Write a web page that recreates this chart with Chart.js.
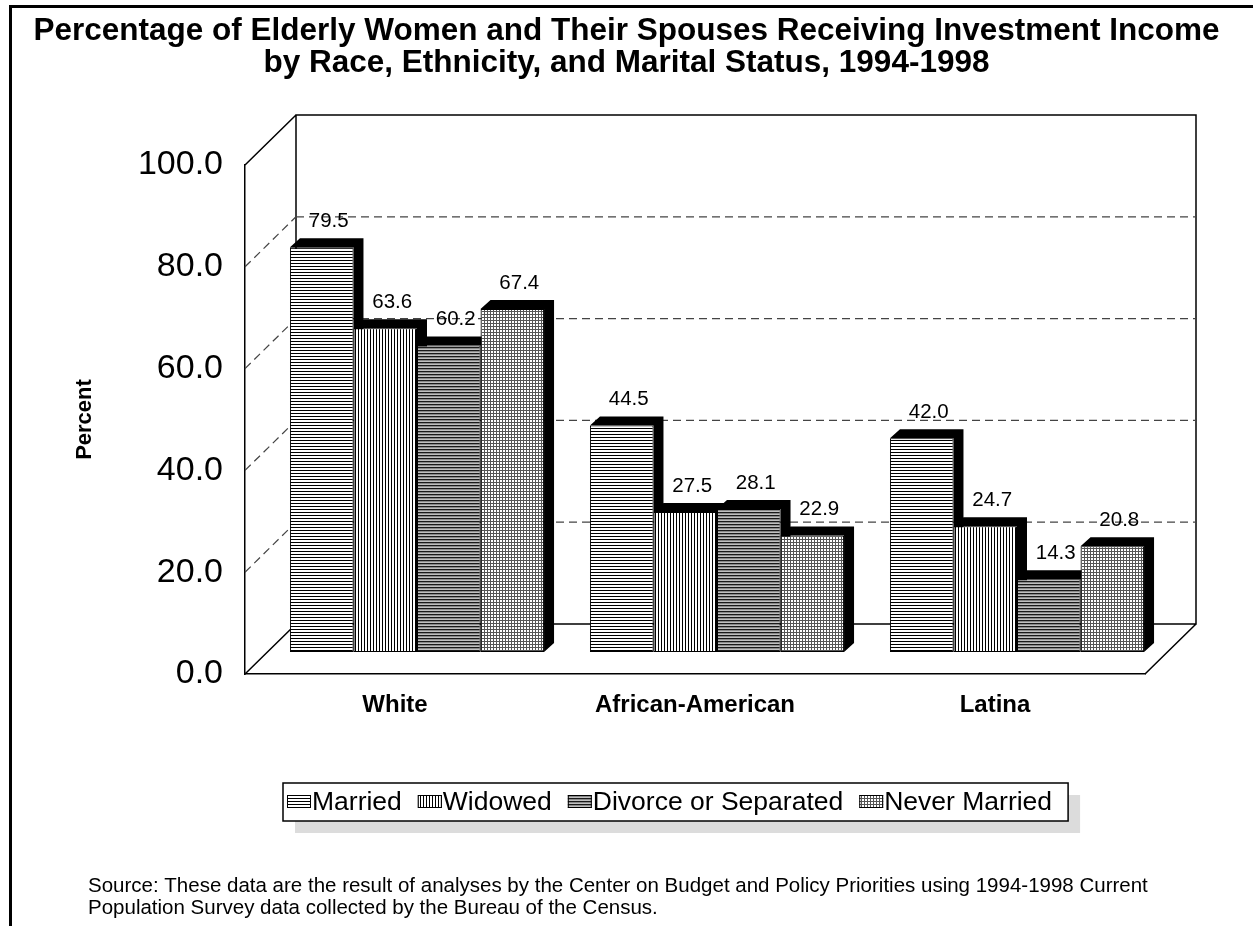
<!DOCTYPE html>
<html lang="en">
<head>
<meta charset="utf-8">
<title>Elderly Women Investment Income</title>
<script src="https://cdn.jsdelivr.net/npm/chart.js"></script>
<style>
  html, body { margin: 0; padding: 0; background: #fff; }
  canvas { display: block; }
</style>
</head>
<body>
<canvas id="graficoIngresos" width="1253" height="926"></canvas>
<script>
// Datos
const categorias = ['White', 'African-American', 'Latina'];
const nombresSeries = ['Married', 'Widowed', 'Divorce or Separated', 'Never Married'];
const casadas = [79.5, 44.5, 42.0];
const viudas = [63.6, 27.5, 24.7];
const divorciadas = [60.2, 28.1, 14.3];
const solteras = [67.4, 22.9, 20.8];
const ticksY = [0, 20, 40, 60, 80, 100];
const lineasTitulo = [
  'Percentage of Elderly Women and Their Spouses Receiving Investment Income',
  'by Race, Ethnicity, and Marital Status, 1994-1998'
];
const lineasFuente = [
  'Source: These data are the result of analyses by the Center on Budget and Policy Priorities using 1994-1998 Current',
  'Population Survey data collected by the Bureau of the Census.'
];

const FUENTE = 'Arial, "Liberation Sans", sans-serif';
const PARED = { dx: 51, dy: -50 };   // desplazamiento de la pared del fondo
const BARRA = { dx: 22, dy: -22 };   // plano de las barras
const GROSOR = { dx: 10, dy: -9 };   // profundidad de cada barra

document.addEventListener('DOMContentLoaded', () => {
  const canvas = document.getElementById('graficoIngresos');
  const ctx = canvas.getContext('2d');

  // Tramas en blanco y negro como en el original
  function crearTrama(tipo) {
    const c = document.createElement('canvas');
    c.width = 3; c.height = 3;
    const g = c.getContext('2d');
    g.fillStyle = '#fff';
    g.fillRect(0, 0, 3, 3);
    if (tipo === 'horizontal') {
      g.fillStyle = '#000';
      g.fillRect(0, 0, 3, 1);
    } else if (tipo === 'vertical') {
      g.fillStyle = '#000';
      g.fillRect(0, 0, 1, 3);
    } else if (tipo === 'gris') {
      g.fillStyle = '#8a8a8a';
      g.fillRect(0, 0, 3, 3);
      g.fillStyle = '#1a1a1a';
      g.fillRect(0, 0, 3, 1);
      g.fillStyle = '#c0c0c0';
      g.fillRect(0, 2, 3, 1);
    } else {
      g.fillStyle = '#555';
      g.fillRect(0, 0, 3, 1);
      g.fillRect(0, 0, 1, 3);
    }
    return ctx.createPattern(c, 'repeat');
  }

  const tramas = [crearTrama('horizontal'), crearTrama('vertical'), crearTrama('gris'), crearTrama('puntos')];
  const valores = [casadas, viudas, divorciadas, solteras];

  // Marco 3D, barras con profundidad y etiquetas
  const plugin3d = {
    id: 'plugin3d',
    beforeDraw(chart) {
      const c = chart.ctx;
      c.save();
      c.fillStyle = '#fff';
      c.fillRect(0, 0, chart.width, chart.height);
      // borde exterior
      c.fillStyle = '#000';
      c.fillRect(9, 5, chart.width - 9, 3);
      c.fillRect(9, 5, 3, chart.height - 5);
      c.restore();
    },
    beforeDatasetsDraw(chart) {
      const c = chart.ctx;
      const a = chart.chartArea;
      const ys = chart.scales.y;
      c.save();
      c.strokeStyle = '#000';
      c.lineWidth = 1.5;
      const yTop = ys.getPixelForValue(100);
      const yBase = ys.getPixelForValue(0);
      // pared del fondo
      c.beginPath();
      c.moveTo(a.left + PARED.dx, yBase + PARED.dy);
      c.lineTo(a.left + PARED.dx, yTop + PARED.dy);
      c.lineTo(a.right + PARED.dx, yTop + PARED.dy);
      c.lineTo(a.right + PARED.dx, yBase + PARED.dy);
      c.lineTo(a.left + PARED.dx, yBase + PARED.dy);
      // pared izquierda y suelo
      c.moveTo(a.left, yTop);
      c.lineTo(a.left + PARED.dx, yTop + PARED.dy);
      c.moveTo(a.left, yBase);
      c.lineTo(a.left + PARED.dx, yBase + PARED.dy);
      c.moveTo(a.right, yBase);
      c.lineTo(a.right + PARED.dx, yBase + PARED.dy);
      c.stroke();
      // líneas de cuadrícula discontinuas
      c.setLineDash([8, 5]);
      c.strokeStyle = '#444';
      c.lineWidth = 1.2;
      ticksY.filter(v => v > 0 && v < 100).forEach(v => {
        const y = ys.getPixelForValue(v);
        c.beginPath();
        c.moveTo(a.left + PARED.dx, y + PARED.dy);
        c.lineTo(a.right + PARED.dx, y + PARED.dy);
        c.stroke();
        c.beginPath();
        c.moveTo(a.left, y);
        c.lineTo(a.left + PARED.dx, y + PARED.dy);
        c.stroke();
      });
      c.restore();

      // plano de las barras
      c.save();
      c.translate(BARRA.dx, BARRA.dy);
      c.fillStyle = '#000';
      chart.data.datasets.forEach((ds, i) => {
        chart.getDatasetMeta(i).data.forEach(bar => {
          const p = bar.getProps(['x', 'y', 'base', 'width'], true);
          const l = p.x - p.width / 2;
          const r = p.x + p.width / 2;
          c.beginPath();
          c.moveTo(l, p.y);
          c.lineTo(l + GROSOR.dx, p.y + GROSOR.dy);
          c.lineTo(r + GROSOR.dx, p.y + GROSOR.dy);
          c.lineTo(r + GROSOR.dx, p.base + GROSOR.dy);
          c.lineTo(r, p.base);
          c.lineTo(r, p.y);
          c.closePath();
          c.fill();
        });
      });
    },
    afterDatasetsDraw(chart) {
      const c = chart.ctx;
      c.fillStyle = '#000';
      c.font = '20.5px ' + FUENTE;
      c.textAlign = 'center';
      c.textBaseline = 'middle';
      chart.data.datasets.forEach((ds, i) => {
        chart.getDatasetMeta(i).data.forEach((bar, j) => {
          const p = bar.getProps(['x', 'y'], true);
          c.fillText(ds.data[j].toFixed(1), p.x + 7, p.y - 26);
        });
      });
      c.restore();
    },
    afterDraw(chart) {
      const c = chart.ctx;
      c.save();
      // leyenda con sombra
      c.font = '26.5px ' + FUENTE;
      const x0 = 283, y0 = 783, alto = 38;
      let ancho = 4;
      nombresSeries.forEach(n => { ancho += 24 + 1 + c.measureText(n).width + 16; });
      c.fillStyle = '#dcdcdc';
      c.fillRect(x0 + 12, y0 + 12, ancho, alto);
      c.fillStyle = '#fff';
      c.fillRect(x0, y0, ancho, alto);
      c.strokeStyle = '#000';
      c.lineWidth = 1.5;
      c.strokeRect(x0, y0, ancho, alto);
      let x = x0 + 4;
      const yc = y0 + alto / 2;
      c.textBaseline = 'middle';
      c.textAlign = 'left';
      nombresSeries.forEach((n, i) => {
        c.fillStyle = tramas[i];
        c.fillRect(x, yc - 7, 24, 13);
        c.lineWidth = 1;
        c.strokeRect(x + 0.5, yc - 6.5, 23, 12);
        c.fillStyle = '#000';
        c.fillText(n, x + 25, yc + 1);
        x += 24 + 1 + c.measureText(n).width + 16;
      });
      // nota de la fuente
      c.font = '20.5px ' + FUENTE;
      lineasFuente.forEach((t, i) => c.fillText(t, 88, 886 + i * 22));
      c.restore();
    }
  };

  if (typeof Chart === 'undefined') {
    console.warn('Chart.js no está cargado');
    return;
  }

  new Chart(canvas, {
    type: 'bar',
    data: {
      labels: categorias,
      datasets: nombresSeries.map((n, i) => ({
        label: n,
        data: valores[i],
        backgroundColor: tramas[i],
        borderColor: '#000',
        borderWidth: 1,
        borderSkipped: false
      }))
    },
    options: {
      responsive: false,
      animation: false,
      devicePixelRatio: 1,
      layout: { padding: 0 },
      datasets: { bar: { categoryPercentage: 0.847, barPercentage: 1 } },
      scales: {
        x: {
          grid: { display: false, drawTicks: false },
          border: { display: true, color: '#000', width: 1.5 },
          ticks: { padding: 17, color: '#000', font: { family: FUENTE, size: 24, weight: 'bold' } },
          afterFit: s => { s.height = 252; }
        },
        y: {
          min: 0,
          max: 100,
          grid: { display: false, drawTicks: false },
          border: { display: true, color: '#000', width: 1.5 },
          afterBuildTicks: s => { s.ticks = ticksY.map(v => ({ value: v })); },
          ticks: {
            padding: 22,
            color: '#000',
            font: { family: FUENTE, size: 34 },
            callback: v => Number(v).toFixed(1)
          },
          title: {
            display: true,
            text: 'Percent',
            color: '#000',
            padding: { top: 72, bottom: 0 },
            font: { family: FUENTE, size: 22, weight: 'bold' }
          },
          afterFit: s => { s.width = 245; }
        },
        // eje vacío a la derecha, solo reserva el espacio de la pared 3D
        derecha: {
          type: 'linear',
          position: 'right',
          display: true,
          grid: { display: false, drawTicks: false },
          border: { display: false },
          ticks: { display: false },
          afterFit: s => { s.width = 108; }
        }
      },
      plugins: {
        legend: { display: false },
        tooltip: { enabled: false },
        title: {
          display: true,
          text: lineasTitulo,
          color: '#000',
          padding: { top: 15, bottom: 86 },
          font: { family: FUENTE, size: 31.5, weight: 'bold', lineHeight: '32px' }
        }
      }
    },
    plugins: [plugin3d]
  });
});
</script>
</body>
</html>
